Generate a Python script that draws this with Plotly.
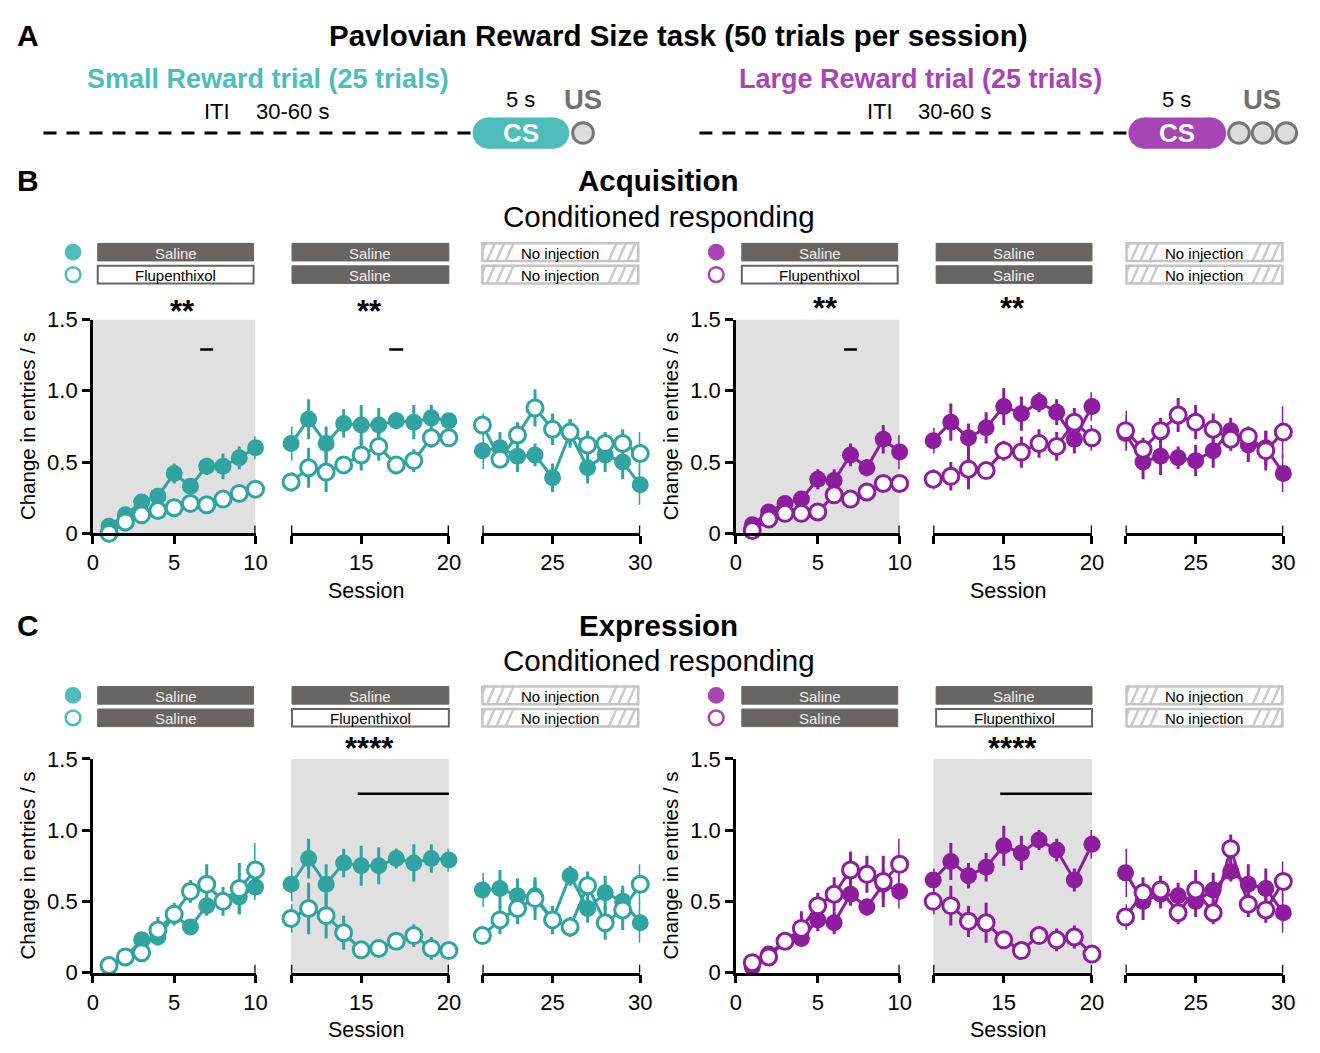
import plotly.graph_objects as go

# ---------------------------------------------------------------- data
sessions = list(range(1, 31))

# Acquisition, small reward (filled = Saline, open = Flupenthixol in sessions 1-10)
acq_small_sal = [0.05, 0.13, 0.22, 0.26, 0.42, 0.33, 0.47, 0.47, 0.53, 0.60,
                 0.63, 0.80, 0.63, 0.77, 0.76, 0.76, 0.79, 0.78, 0.81, 0.79,
                 0.58, 0.60, 0.54, 0.55, 0.39, 0.70, 0.46, 0.55, 0.50, 0.34]
acq_small_sal_err = [0.03, 0.04, 0.04, 0.04, 0.07, 0.05, 0.06, 0.09, 0.08, 0.08,
                     0.12, 0.14, 0.12, 0.10, 0.14, 0.12, 0.06, 0.12, 0.09, 0.05,
                     0.13, 0.11, 0.11, 0.08, 0.10, 0.10, 0.11, 0.12, 0.12, 0.14]
acq_small_flu = [0.00, 0.08, 0.13, 0.16, 0.18, 0.21, 0.20, 0.24, 0.28, 0.31,
                 0.36, 0.46, 0.43, 0.48, 0.55, 0.61, 0.48, 0.51, 0.67, 0.67,
                 0.76, 0.52, 0.69, 0.88, 0.73, 0.71, 0.62, 0.63, 0.63, 0.56]
acq_small_flu_err = [0.02, 0.03, 0.03, 0.03, 0.03, 0.03, 0.03, 0.03, 0.04, 0.05,
                     0.07, 0.14, 0.14, 0.05, 0.11, 0.10, 0.04, 0.08, 0.07, 0.06,
                     0.08, 0.06, 0.09, 0.13, 0.11, 0.09, 0.10, 0.08, 0.10, 0.15]

# Acquisition, large reward
acq_large_sal = [0.06, 0.15, 0.21, 0.24, 0.38, 0.37, 0.55, 0.46, 0.66, 0.57,
                 0.65, 0.78, 0.67, 0.74, 0.89, 0.84, 0.92, 0.85, 0.66, 0.89,
                 0.70, 0.50, 0.54, 0.53, 0.51, 0.58, 0.72, 0.62, 0.60, 0.42]
acq_large_sal_err = [0.03, 0.03, 0.03, 0.04, 0.07, 0.08, 0.08, 0.06, 0.10, 0.12,
                     0.09, 0.13, 0.10, 0.11, 0.13, 0.12, 0.07, 0.09, 0.10, 0.10,
                     0.12, 0.12, 0.13, 0.08, 0.11, 0.12, 0.09, 0.12, 0.12, 0.13]
acq_large_flu = [0.02, 0.10, 0.14, 0.14, 0.15, 0.27, 0.24, 0.29, 0.35, 0.35,
                 0.38, 0.40, 0.45, 0.44, 0.58, 0.57, 0.63, 0.61, 0.78, 0.67,
                 0.72, 0.59, 0.72, 0.83, 0.78, 0.73, 0.66, 0.68, 0.58, 0.71]
acq_large_flu_err = [0.02, 0.02, 0.02, 0.02, 0.02, 0.03, 0.03, 0.03, 0.03, 0.03,
                     0.07, 0.10, 0.14, 0.04, 0.07, 0.11, 0.10, 0.10, 0.10, 0.09,
                     0.14, 0.08, 0.09, 0.12, 0.12, 0.11, 0.08, 0.07, 0.14, 0.18]

# Expression, small reward (filled = Saline, open = Flupenthixol in sessions 11-20)
exp_small_sal = [0.04, 0.11, 0.23, 0.25, 0.40, 0.32, 0.47, 0.50, 0.53, 0.60,
                 0.62, 0.80, 0.62, 0.77, 0.75, 0.75, 0.80, 0.77, 0.80, 0.79,
                 0.58, 0.59, 0.54, 0.54, 0.37, 0.68, 0.45, 0.56, 0.50, 0.35]
exp_small_sal_err = [0.02, 0.03, 0.04, 0.06, 0.05, 0.05, 0.07, 0.06, 0.12, 0.09,
                     0.12, 0.14, 0.14, 0.10, 0.14, 0.13, 0.07, 0.13, 0.10, 0.08,
                     0.12, 0.13, 0.12, 0.10, 0.08, 0.07, 0.10, 0.12, 0.11, 0.14]
exp_small_flu = [0.05, 0.11, 0.14, 0.30, 0.41, 0.57, 0.62, 0.50, 0.59, 0.72,
                 0.38, 0.45, 0.40, 0.28, 0.16, 0.17, 0.22, 0.26, 0.17, 0.155,
                 0.26, 0.37, 0.45, 0.52, 0.37, 0.32, 0.61, 0.35, 0.44, 0.62]
exp_small_flu_err = [0.02, 0.03, 0.05, 0.09, 0.08, 0.08, 0.14, 0.10, 0.18, 0.19,
                     0.10, 0.18, 0.16, 0.12, 0.03, 0.03, 0.03, 0.08, 0.08, 0.03,
                     0.06, 0.10, 0.11, 0.15, 0.10, 0.07, 0.10, 0.12, 0.14, 0.14]

# Expression, large reward
exp_large_sal = [0.04, 0.13, 0.22, 0.24, 0.37, 0.35, 0.55, 0.46, 0.62, 0.57,
                 0.65, 0.78, 0.68, 0.74, 0.89, 0.84, 0.93, 0.86, 0.65, 0.90,
                 0.70, 0.50, 0.55, 0.54, 0.50, 0.58, 0.71, 0.62, 0.59, 0.42]
exp_large_sal_err = [0.02, 0.03, 0.03, 0.04, 0.08, 0.08, 0.08, 0.06, 0.10, 0.12,
                     0.08, 0.13, 0.09, 0.10, 0.14, 0.12, 0.07, 0.08, 0.08, 0.10,
                     0.17, 0.13, 0.10, 0.09, 0.11, 0.12, 0.07, 0.14, 0.14, 0.14]
exp_large_flu = [0.07, 0.11, 0.22, 0.31, 0.47, 0.55, 0.72, 0.69, 0.64, 0.76,
                 0.50, 0.47, 0.36, 0.35, 0.23, 0.155, 0.26, 0.23, 0.25, 0.13,
                 0.39, 0.56, 0.58, 0.42, 0.58, 0.42, 0.87, 0.48, 0.44, 0.64]
exp_large_flu_err = [0.02, 0.02, 0.02, 0.12, 0.09, 0.12, 0.13, 0.13, 0.18, 0.18,
                     0.09, 0.14, 0.11, 0.14, 0.06, 0.03, 0.06, 0.08, 0.08, 0.03,
                     0.09, 0.11, 0.10, 0.08, 0.14, 0.08, 0.10, 0.09, 0.09, 0.14]

y_tick_vals = [0, 0.5, 1.0, 1.5]
y_tick_text = ["0", "0.5", "1.0", "1.5"]
segment_ranges = [(0, 10), (11, 20), (21, 30)]
segment_ticks = [([0, 5, 10], ["0", "5", "10"]),
                 ([11, 15, 20], ["", "15", "20"]),
                 ([21, 25, 30], ["", "25", "30"])]

# ---------------------------------------------------------------- style
W, H = 1320, 1053
FONT = "Liberation Sans, Arial, Helvetica, sans-serif"
TEAL = "#2fa4a0"
TEAL_LIGHT = "#4dbdbc"
PURPLE = "#8e1c9e"
PURPLE_LIGHT = "#a845b5"
SHADE = "#e0e0e0"
BOX_DARK = "#686462"
HATCH = "#cacaca"
HATCH_EDGE = "#c4c4c4"


def px(x):
    return x / W


def py(y):
    return 1 - y / H


col_px = {"L": [(88, 253), (289, 449), (483, 643)],
          "R": [(740, 906), (940, 1101), (1135, 1295)]}
box_cols = {"L": [(93, 251), (290, 449), (483, 641)],
            "R": [(746, 904), (943, 1101), (1136, 1294)]}
row_px = {"B": (534, 315), "C": (984, 765)}
box_rows = {"B": [(237, 255), (260, 278)], "C": [(691, 709), (714, 732)]}
legend_x = {"L": 68, "R": 720}

panels = [
    dict(row="B", side="L", color=TEAL, light=TEAL_LIGHT,
         filled=acq_small_sal, filled_err=acq_small_sal_err,
         hollow=acq_small_flu, hollow_err=acq_small_flu_err,
         shade=0, labels=[["Saline", "Saline", "No injection"],
                          ["Flupenthixol", "Saline", "No injection"]],
         stars=[(0, "**"), (1, "**")], star_y=300,
         ticks=[(0, 7), (1, 17)], bar=None),
    dict(row="B", side="R", color=PURPLE, light=PURPLE_LIGHT,
         filled=acq_large_sal, filled_err=acq_large_sal_err,
         hollow=acq_large_flu, hollow_err=acq_large_flu_err,
         shade=0, labels=[["Saline", "Saline", "No injection"],
                          ["Flupenthixol", "Saline", "No injection"]],
         stars=[(0, "**"), (1, "**")], star_y=297,
         ticks=[(0, 7)], bar=None),
    dict(row="C", side="L", color=TEAL, light=TEAL_LIGHT,
         filled=exp_small_sal, filled_err=exp_small_sal_err,
         hollow=exp_small_flu, hollow_err=exp_small_flu_err,
         shade=1, labels=[["Saline", "Saline", "No injection"],
                          ["Saline", "Flupenthixol", "No injection"]],
         stars=[(1, "****")], star_y=747,
         ticks=[], bar=(1, 14.8, 20.1)),
    dict(row="C", side="R", color=PURPLE, light=PURPLE_LIGHT,
         filled=exp_large_sal, filled_err=exp_large_sal_err,
         hollow=exp_large_flu, hollow_err=exp_large_flu_err,
         shade=1, labels=[["Saline", "Saline", "No injection"],
                          ["Saline", "Flupenthixol", "No injection"]],
         stars=[(1, "****")], star_y=747,
         ticks=[], bar=(1, 14.8, 20.1)),
]

fig = go.Figure()
shapes = []
annotations = []
layout_axes = {}


def text(x, y, s, size, color="black", bold=False, xanchor="center", angle=0, xref="paper"):
    annotations.append(dict(
        x=x, y=py(y), xref=xref, yref="paper", text=f"<b>{s}</b>" if bold else s,
        showarrow=False, xanchor=xanchor, yanchor="middle", textangle=angle,
        font=dict(family=FONT, size=size, color=color)))


def circle(cx, cy, r, fill, line_color=None, line_width=0):
    shapes.append(dict(type="circle", xref="paper", yref="paper",
                       x0=px(cx - r), x1=px(cx + r), y0=py(cy + r), y1=py(cy - r),
                       fillcolor=fill, line=dict(color=line_color or fill, width=line_width)))


def rect(x0, y0, x1, y1, fill, line_color=None, line_width=0, layer="above"):
    shapes.append(dict(type="rect", xref="paper", yref="paper", layer=layer,
                       x0=px(x0), x1=px(x1), y0=py(y1), y1=py(y0),
                       fillcolor=fill, line=dict(color=line_color or fill, width=line_width)))


def seg(x0, y0, x1, y1, color, width, dash="solid"):
    shapes.append(dict(type="line", xref="paper", yref="paper",
                       x0=px(x0), x1=px(x1), y0=py(y0), y1=py(y1),
                       line=dict(color=color, width=width, dash=dash)))


def treatment_box(x0, y0, x1, y1, label):
    cx, cy = (x0 + x1) / 2, (y0 + y1) / 2 + 1
    if label == "Saline":
        rect(x0, y0, x1, y1, BOX_DARK, BOX_DARK, 1)
        text(px(cx), cy, label, 15, "#efefef")
    elif label == "No injection":
        rect(x0, y0, x1, y1, "white", "white", 0)
        half_text = 42
        h = y1 - y0
        run, step = 8, 9.5
        c = x0 - run + 3
        while c < x1:
            xa, ya, xb, yb = c, y1, c + run, y0
            if xa < x0:
                ya = y1 - (x0 - xa) / run * h
                xa = x0
            if xb > x1:
                yb = y0 + (xb - x1) / run * h
                xb = x1
            if not (xb > cx - half_text and xa < cx + half_text) and xb > xa:
                seg(xa, ya, xb, yb, HATCH, 2.5)
            c += step
        rect(x0, y0, x1, y1, "rgba(0,0,0,0)", HATCH_EDGE, 2.5)
        text(px(cx), cy, label, 15, "black")
    else:
        rect(x0, y0, x1, y1, "white", BOX_DARK, 2)
        text(px(cx), cy, label, 15, "black")


# ---------------------------------------------------------------- panels
for p_idx, pan in enumerate(panels):
    ybot, ytop = row_px[pan["row"]]
    for s in range(3):
        k = p_idx * 3 + s + 1
        xname = "xaxis" if k == 1 else f"xaxis{k}"
        yname = "yaxis" if k == 1 else f"yaxis{k}"
        xr = "x" if k == 1 else f"x{k}"
        yr = "y" if k == 1 else f"y{k}"
        x0p, x1p = col_px[pan["side"]][s]
        lo, hi = segment_ranges[s]
        tv, tt = segment_ticks[s]
        layout_axes[xname] = dict(
            domain=[px(x0p), px(x1p)], range=[lo, hi], anchor=yr,
            showline=True, linecolor="black", linewidth=2.5,
            ticks="outside", ticklen=8, tickwidth=2.5, tickcolor="black",
            tickvals=tv, ticktext=tt, showgrid=False, zeroline=False,
            tickfont=dict(family=FONT, size=22, color="black"), fixedrange=True)
        layout_axes[yname] = dict(
            domain=[py(ybot), py(ytop)], range=[0, 1.5], anchor=xr,
            showline=True, linecolor="black", linewidth=2.5,
            ticks="outside", ticklen=8, tickwidth=2.5, tickcolor="black",
            tickvals=y_tick_vals, ticktext=y_tick_text, showgrid=False, zeroline=False,
            tickfont=dict(family=FONT, size=22, color="black"),
            visible=(s == 0), fixedrange=True)

        idx = [i for i, x in enumerate(sessions) if lo <= x <= hi]
        xs = [sessions[i] for i in idx]
        c = pan["color"]
        fig.add_trace(go.Scatter(
            x=xs, y=[pan["filled"][i] for i in idx], xaxis=xr, yaxis=yr,
            mode="lines+markers", cliponaxis=False,
            line=dict(color=c, width=3),
            marker=dict(size=17, color=c, line=dict(width=0)),
            error_y=dict(type="data", array=[pan["filled_err"][i] for i in idx],
                         color=c, thickness=3, width=0)))
        fig.add_trace(go.Scatter(
            x=xs, y=[pan["hollow"][i] for i in idx], xaxis=xr, yaxis=yr,
            mode="lines+markers", cliponaxis=False,
            line=dict(color=c, width=3),
            marker=dict(size=16, color="white", line=dict(width=3, color=c)),
            error_y=dict(type="data", array=[pan["hollow_err"][i] for i in idx],
                         color=c, thickness=3, width=0)))

        # upward half of the end caps on each session axis
        caps = [hi] if s == 0 else [lo, hi]
        for cv in caps:
            shapes.append(dict(type="line", xref=xr, yref="paper",
                               x0=cv, x1=cv, y0=py(ybot), y1=py(ybot - 8),
                               line=dict(color="black", width=2.5)))

        if s == pan["shade"]:
            shapes.append(dict(type="rect", xref=xr, yref=yr, layer="below",
                               x0=lo, x1=hi, y0=0, y1=1.5,
                               fillcolor=SHADE, line=dict(width=0)))

        for (ss, st) in pan["stars"]:
            if ss == s:
                annotations.append(dict(
                    x=(lo + hi) / 2 + (0.5 if s == 0 else 0), y=py(pan["star_y"] + 7),
                    xref=xr, yref="paper", text=f"<b>{st}</b>", showarrow=False,
                    xanchor="center", yanchor="middle",
                    font=dict(family=FONT, size=31, color="black")))
        for (ss, sv) in pan["ticks"]:
            if ss == s:
                shapes.append(dict(type="line", xref=xr, yref=yr,
                                   x0=sv - 0.4, x1=sv + 0.4, y0=1.29, y1=1.29,
                                   line=dict(color="black", width=2.5)))
        if pan["bar"] and pan["bar"][0] == s:
            shapes.append(dict(type="line", xref=xr, yref=yr,
                               x0=pan["bar"][1], x1=pan["bar"][2], y0=1.255, y1=1.255,
                               line=dict(color="black", width=2.5)))

    # treatment boxes and legend symbols
    for r, (ry0, ry1) in enumerate(box_rows[pan["row"]]):
        for s, (bx0, bx1) in enumerate(box_cols[pan["side"]]):
            treatment_box(bx0, ry0, bx1, ry1, pan["labels"][r][s])
        lx = legend_x[pan["side"]]
        cy = (ry0 + ry1) / 2
        if r == 0:
            circle(lx, cy, 8.5, pan["light"])
        else:
            circle(lx, cy, 7.5, "white", pan["light"], 2.5)

    # axis titles
    yl = col_px[pan["side"]][0][0] - 66
    text(px(yl), (ybot + ytop) / 2, "Change in entries / s", 20.5, angle=-90)
    sx = (col_px[pan["side"]][1][0] + col_px[pan["side"]][1][1]) / 2 - 4
    text(px(sx), ybot + 59, "Session", 21.5)

# ---------------------------------------------------------------- headers
text(px(22), 24, "A", 30, bold=True)
text(px(22), 173, "B", 30, bold=True)
text(px(22), 628, "C", 30, bold=True)
text(px(681), 24, "Pavlovian Reward Size task (50 trials per session)", 29.5, bold=True)
text(px(662), 173, "Acquisition", 29.5, bold=True)
text(px(662), 209, "Conditioned responding", 29.5)
text(px(662), 628, "Expression", 29.5, bold=True)
text(px(662), 664, "Conditioned responding", 29.5)

# trial schematics
trials = [
    dict(title="Small Reward trial (25 trials)", tx=266, color=TEAL_LIGHT,
         line=(38, 476), pill=(473, 571), us=[585], iti=214, dur=290, five=522, usx=585),
    dict(title="Large Reward trial (25 trials)", tx=927, color=PURPLE_LIGHT,
         line=(703, 1140), pill=(1138, 1237), us=[1250, 1274, 1298], iti=886, dur=962,
         five=1187, usx=1273),
]
for t in trials:
    text(px(t["tx"]), 69, t["title"], 27, t["color"], bold=True)
    text(px(t["iti"]), 102, "ITI", 22)
    text(px(t["dur"]), 102, "30-60 s", 22)
    text(px(t["five"]), 90, "5 s", 22)
    text(px(t["usx"]), 90, "US", 27.5, "#707070", bold=True)
    seg(t["line"][0], 124, t["line"][1], 124, "black", 3, "13px,10px")
    p0, p1 = t["pill"]
    r = 16
    rect(p0 + r, 108, p1 - r, 140, t["color"])
    circle(p0 + r, 124, r, t["color"])
    circle(p1 - r, 124, r, t["color"])
    text(px((p0 + p1) / 2), 124, "CS", 26, "white", bold=True)
    for ux in t["us"]:
        circle(ux, 124, 10.5, "#dcdcdc", "#767676", 3)

fig.update_layout(
    width=W, height=H, autosize=False,
    margin=dict(l=0, r=0, t=0, b=0),
    paper_bgcolor="white", plot_bgcolor="rgba(0,0,0,0)",
    showlegend=False, font=dict(family=FONT, color="black"),
    shapes=shapes, annotations=annotations, **layout_axes)

fig.write_html("out.html")
